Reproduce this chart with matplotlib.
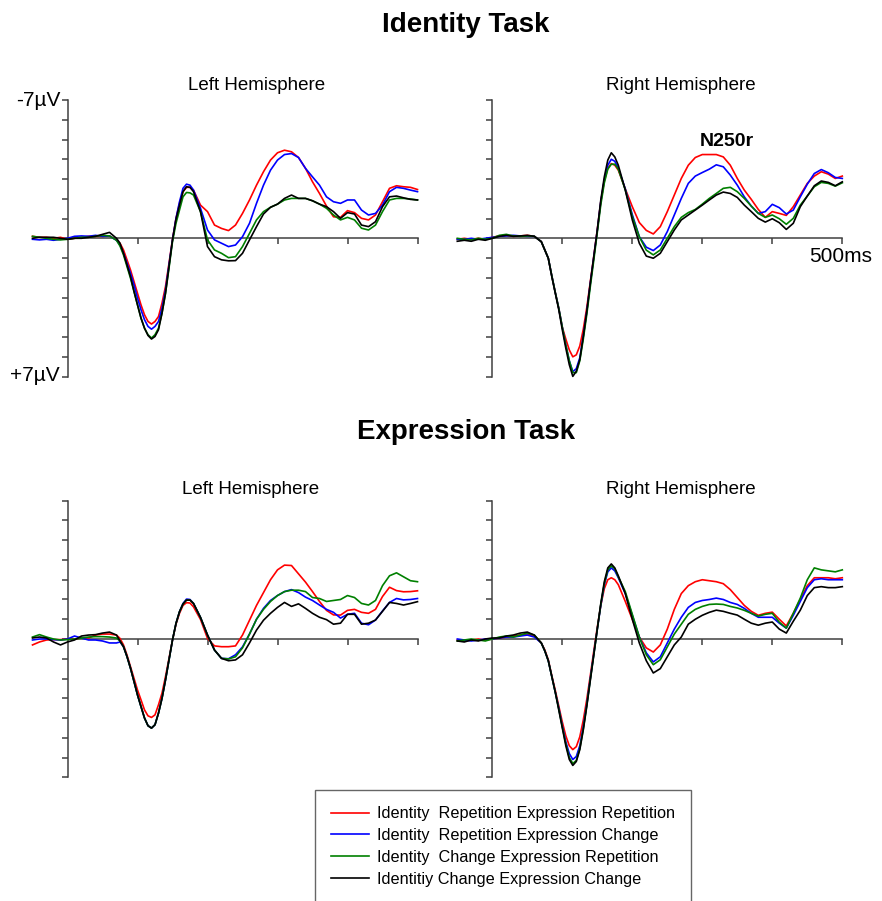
import matplotlib.pyplot as plt
from matplotlib.lines import Line2D

plt.rcParams['font.family'] = ['Liberation Sans', 'DejaVu Sans']

# time points (ms) -- denser around P1 / N170
times = [-50, -40, -30, -20, -10, 0, 10, 20, 30, 40, 50, 60,
         70, 75, 80, 85, 90, 95, 100, 105, 110, 115, 120, 125, 130, 135, 140,
         145, 150, 155, 160, 165, 170, 175, 180,
         190, 200, 210, 220, 230, 240, 250, 260, 270, 280, 290, 300, 310, 320,
         330, 340, 350, 360, 370, 380, 390, 400, 410, 420, 430, 440, 450, 460,
         470, 480, 490, 500]

# ---- Identity task, left hemisphere (uV)
id_left_rr = [-0.1, -0.05, -0.05, 0.0, -0.05, 0.05, 0.0, -0.05, -0.1, -0.1, -0.1, -0.12,
              0.08, 0.25, 0.59, 1.09, 1.6, 2.19, 2.78, 3.37, 3.87, 4.21, 4.34, 4.21, 3.96, 3.28, 2.44,
              1.26, 0.05, -1.01, -1.77, -2.36, -2.58, -2.58, -2.44,
              -1.68, -1.35, -0.67, -0.5, -0.39, -0.67, -1.26, -1.94, -2.69, -3.37, -3.96, -4.33, -4.46, -4.38,
              -4.09, -3.54, -2.86, -2.27, -1.63, -1.09, -1.06, -1.4, -1.3, -1.01, -0.93, -1.18, -1.85, -2.53,
              -2.66, -2.61, -2.58, -2.47]
id_left_rc = [0.05, 0.08, 0.05, 0.1, 0.05, 0.0, -0.1, -0.12, -0.1, -0.15, -0.1, -0.12,
              0.1, 0.34, 0.76, 1.26, 1.77, 2.36, 3.03, 3.62, 4.12, 4.46, 4.6, 4.46, 4.21, 3.54, 2.61,
              1.35, 0.08, -1.01, -1.85, -2.53, -2.74, -2.69, -2.44,
              -1.52, -0.42, 0.08, 0.25, 0.42, 0.34, -0.08, -0.76, -1.77, -2.69, -3.45, -3.96, -4.24, -4.29,
              -4.09, -3.54, -3.11, -2.69, -2.1, -1.85, -1.77, -1.94, -1.94, -1.43, -1.18, -1.26, -1.68, -2.36,
              -2.58, -2.53, -2.44, -2.36]
id_left_cr = [-0.1, -0.05, 0.0, 0.05, 0.08, 0.05, 0.0, -0.05, -0.05, -0.1, -0.15, -0.12,
              0.1, 0.39, 0.84, 1.43, 2.02, 2.69, 3.37, 4.04, 4.55, 4.88, 5.05, 4.88, 4.55, 3.79, 2.78,
              1.51, 0.17, -0.76, -1.43, -2.1, -2.32, -2.3, -2.19,
              -1.35, 0.08, 0.59, 0.76, 0.98, 0.93, 0.42, -0.25, -0.93, -1.35, -1.57, -1.73, -1.94, -2.02,
              -2.02, -2.02, -1.9, -1.73, -1.52, -1.18, -0.93, -1.06, -0.93, -0.51, -0.42, -0.67, -1.35, -1.94,
              -2.02, -2.02, -1.99, -1.94]
id_left_cc = [0.0, -0.05, -0.05, -0.05, 0.0, 0.05, 0.0, 0.0, -0.05, -0.1, -0.2, -0.3,
              0.0, 0.25, 0.76, 1.35, 1.94, 2.69, 3.37, 4.04, 4.55, 4.92, 5.1, 4.97, 4.63, 3.79, 2.78,
              1.43, 0.08, -0.96, -1.68, -2.36, -2.61, -2.58, -2.36,
              -1.35, 0.42, 0.93, 1.09, 1.14, 1.13, 0.76, 0.08, -0.59, -1.23, -1.57, -1.73, -2.02, -2.19,
              -2.02, -2.02, -1.9, -1.73, -1.6, -1.35, -1.01, -1.3, -1.23, -0.67, -0.59, -0.84, -1.6, -2.1,
              -2.14, -2.05, -1.97, -1.94]

# ---- Identity task, right hemisphere
id_right_rr = [0.05, 0.0, 0.05, 0.0, 0.05, -0.05, -0.12, -0.15, -0.1, -0.12, -0.15, -0.1,
               0.17, 0.59, 1.01, 1.9, 2.75, 3.55, 4.5, 5.1, 5.65, 6.0, 5.9, 5.45, 4.6, 3.5, 2.2,
               0.9, -0.45, -1.85, -2.9, -3.55, -3.78, -3.7, -3.45,
               -2.5, -1.6, -0.8, -0.4, -0.22, -0.59, -1.35, -2.19, -3.03, -3.7, -4.09, -4.24, -4.24, -4.24,
               -4.12, -3.7, -3.03, -2.44, -1.97, -1.46, -1.06, -1.35, -1.26, -1.16, -1.6, -2.19, -2.78, -3.15,
               -3.37, -3.25, -3.03, -3.15]
id_right_rc = [0.05, 0.05, 0.0, 0.05, 0.0, -0.05, -0.1, -0.12, -0.15, -0.12, -0.1, -0.1,
               0.17, 0.59, 1.01, 1.9, 2.75, 3.55, 4.5, 5.4, 6.2, 6.75, 6.6, 6.05, 4.95, 3.7, 2.3,
               0.95, -0.4, -1.85, -2.95, -3.7, -4.0, -3.9, -3.55,
               -2.5, -1.2, -0.08, 0.45, 0.62, 0.34, -0.34, -1.18, -2.02, -2.78, -3.15, -3.33, -3.5, -3.72,
               -3.62, -3.2, -2.69, -2.1, -1.63, -1.26, -1.35, -1.72, -1.55, -1.23, -1.43, -2.1, -2.74, -3.28,
               -3.48, -3.32, -3.08, -3.03]
id_right_cr = [0.0, 0.05, 0.08, 0.0, 0.05, 0.0, -0.15, -0.2, -0.12, -0.1, -0.12, -0.1,
               0.17, 0.59, 1.01, 1.9, 2.75, 3.55, 4.5, 5.4, 6.2, 6.8, 6.8, 6.2, 5.1, 3.85, 2.45,
               1.1, -0.3, -1.7, -2.8, -3.5, -3.75, -3.75, -3.5,
               -2.45, -1.1, -0.08, 0.6, 0.84, 0.59, 0.0, -0.59, -1.06, -1.3, -1.46, -1.73, -2.02, -2.27,
               -2.53, -2.58, -2.36, -2.02, -1.63, -1.26, -1.06, -1.18, -0.99, -0.71, -1.01, -1.68, -2.14, -2.61,
               -2.83, -2.78, -2.64, -2.81]
id_right_cc = [0.15, 0.1, 0.15, 0.05, 0.1, 0.0, -0.1, -0.15, -0.1, -0.12, -0.15, -0.1,
               0.17, 0.59, 1.01, 1.94, 2.78, 3.62, 4.63, 5.56, 6.4, 6.99, 6.73, 6.14, 4.97, 3.7, 2.27,
               0.93, -0.42, -1.94, -3.11, -3.96, -4.33, -4.12, -3.7,
               -2.44, -0.93, 0.25, 0.9, 1.01, 0.76, 0.17, -0.42, -0.93, -1.18, -1.43, -1.68, -1.94, -2.19,
               -2.34, -2.27, -2.07, -1.68, -1.35, -1.01, -0.82, -0.99, -0.79, -0.45, -0.76, -1.6, -2.14, -2.66,
               -2.9, -2.83, -2.66, -2.86]

# ---- Expression task, left hemisphere
ex_left_rr = [0.3, 0.15, 0.05, 0.03, 0.03, 0.0, 0.0, -0.05, -0.05, -0.2, -0.25, -0.25,
              -0.2, -0.03, 0.3, 0.81, 1.4, 1.99, 2.58, 3.08, 3.59, 3.89, 3.97, 3.84, 3.33, 2.74, 1.9,
              0.98, 0.05, -0.75, -1.3, -1.7, -1.84, -1.82, -1.63,
              -0.99, -0.03, 0.35, 0.39, 0.39, 0.35, -0.2, -0.95, -1.7, -2.35, -3.0, -3.5, -3.74, -3.72,
              -3.3, -2.88, -2.4, -1.9, -1.45, -1.22, -1.21, -1.45, -1.5, -1.35, -1.3, -1.5, -2.15, -2.62,
              -2.45, -2.39, -2.4, -2.44]
ex_left_rc = [0.05, 0.0, 0.0, 0.03, 0.05, 0.0, -0.15, -0.05, 0.05, 0.05, 0.1, 0.2,
              0.2, 0.15, 0.39, 0.89, 1.48, 2.15, 2.83, 3.42, 4.0, 4.39, 4.51, 4.34, 3.75, 3.0, 2.07,
              1.06, 0.05, -0.79, -1.38, -1.8, -2.02, -2.0, -1.8,
              -1.09, -0.2, 0.56, 0.98, 1.0, 0.8, 0.4, -0.25, -1.0, -1.55, -1.95, -2.2, -2.4, -2.5,
              -2.35, -2.12, -1.95, -1.72, -1.5, -1.35, -1.06, -1.25, -1.3, -0.8, -0.72, -0.96, -1.42, -1.85,
              -2.05, -1.98, -2.0, -2.05]
ex_left_cr = [-0.1, -0.22, -0.1, 0.0, 0.05, 0.03, 0.0, -0.05, -0.1, -0.12, -0.12, -0.1,
              -0.05, 0.1, 0.39, 0.89, 1.48, 2.15, 2.83, 3.42, 4.0, 4.39, 4.51, 4.34, 3.75, 3.0, 2.07,
              1.06, 0.05, -0.79, -1.38, -1.77, -1.97, -1.97, -1.8,
              -1.09, -0.2, 0.56, 0.98, 1.01, 0.9, 0.45, -0.25, -1.0, -1.5, -1.9, -2.2, -2.4, -2.47,
              -2.47, -2.4, -2.1, -2.05, -1.9, -1.95, -2.0, -2.2, -2.1, -1.8, -1.72, -1.95, -2.7, -3.2,
              -3.35, -3.15, -2.95, -2.9]
ex_left_cc = [-0.05, -0.1, -0.05, 0.15, 0.3, 0.15, 0.05, -0.15, -0.2, -0.22, -0.3, -0.35,
              -0.2, 0.1, 0.39, 0.89, 1.48, 2.15, 2.83, 3.42, 4.0, 4.39, 4.51, 4.34, 3.75, 3.0, 2.07,
              1.06, 0.05, -0.79, -1.38, -1.77, -1.97, -1.97, -1.8,
              -1.09, -0.2, 0.56, 0.98, 1.1, 1.06, 0.8, 0.2, -0.45, -0.95, -1.3, -1.6, -1.85, -1.65,
              -1.78, -1.55, -1.3, -1.1, -0.98, -0.75, -0.8, -1.25, -1.25, -0.75, -0.8, -0.96, -1.4, -1.85,
              -1.8, -1.72, -1.8, -1.89]

# ---- Expression task, right hemisphere
ex_right_rr = [0.05, 0.1, 0.05, 0.0, 0.05, 0.0, -0.05, -0.1, -0.15, -0.2, -0.25, -0.15,
               0.2, 0.55, 1.05, 1.85, 2.6, 3.4, 4.2, 4.9, 5.4, 5.6, 5.45, 4.95, 4.1, 3.05, 1.85,
               0.6, -0.6, -1.7, -2.55, -3.0, -3.1, -3.0, -2.75,
               -1.9, -1.0, -0.1, 0.45, 0.66, 0.3, -0.5, -1.5, -2.3, -2.7, -2.9, -3.0, -2.95, -2.9,
               -2.8, -2.5, -2.1, -1.7, -1.4, -1.2, -1.3, -1.36, -1.0, -0.66, -1.3, -2.0, -2.7, -3.1,
               -3.1, -3.1, -3.05, -3.1]
ex_right_rc = [0.0, 0.05, 0.1, 0.05, 0.0, 0.0, -0.05, -0.1, -0.1, -0.15, -0.2, -0.1,
               0.2, 0.6, 1.1, 1.9, 2.7, 3.5, 4.4, 5.2, 5.8, 6.1, 5.95, 5.4, 4.45, 3.3, 2.0,
               0.75, -0.5, -1.7, -2.75, -3.4, -3.6, -3.45, -3.1,
               -2.3, -1.2, -0.1, 0.7, 1.16, 0.9, 0.2, -0.5, -1.1, -1.6, -1.85, -1.95, -2.0, -2.07,
               -2.0, -1.85, -1.75, -1.55, -1.3, -1.1, -1.1, -1.1, -0.8, -0.55, -1.2, -1.9, -2.6, -3.0,
               -3.05, -3.0, -3.0, -3.0]
ex_right_cr = [0.1, 0.05, 0.0, 0.05, 0.1, 0.0, -0.1, -0.15, -0.1, -0.2, -0.3, -0.2,
               0.2, 0.6, 1.1, 1.9, 2.7, 3.55, 4.45, 5.3, 6.0, 6.3, 6.15, 5.55, 4.55, 3.35, 2.05,
               0.8, -0.5, -1.75, -2.8, -3.5, -3.7, -3.55, -3.15,
               -2.4, -1.25, -0.1, 0.8, 1.3, 1.05, 0.4, -0.25, -0.75, -1.25, -1.5, -1.65, -1.75, -1.77,
               -1.75, -1.65, -1.57, -1.45, -1.3, -1.16, -1.25, -1.3, -0.85, -0.55, -1.3, -2.07, -3.0, -3.6,
               -3.5, -3.45, -3.4, -3.5]
ex_right_cc = [0.1, 0.15, 0.05, 0.1, 0.0, -0.05, -0.05, -0.15, -0.2, -0.3, -0.35, -0.2,
               0.2, 0.6, 1.1, 1.9, 2.7, 3.6, 4.5, 5.4, 6.1, 6.4, 6.2, 5.6, 4.6, 3.4, 2.1,
               0.8, -0.5, -1.8, -2.9, -3.6, -3.8, -3.6, -3.2,
               -2.3, -1.0, 0.2, 1.1, 1.72, 1.5, 0.9, 0.3, -0.1, -0.75, -1.0, -1.2, -1.35, -1.46,
               -1.4, -1.3, -1.21, -1.0, -0.8, -0.7, -0.8, -0.86, -0.5, -0.3, -0.9, -1.46, -2.2, -2.6,
               -2.65, -2.6, -2.6, -2.65]

labels = ['Identity  Repetition Expression Repetition',
          'Identity  Repetition Expression Change',
          'Identity  Change Expression Repetition',
          'Identitiy Change Expression Change']
colors = ['#ff0000', '#0000ff', '#008000', '#000000']

W, H = 882, 901


def px_x(x):
    return x / W


def px_y(y):
    return 1 - y / H


def erp_panel(left_px, top_px, series):
    # 0.7 px per ms, 19.75 px per uV
    ax = fig.add_axes([px_x(left_px), px_y(top_px + 288.4), 392 / W, 288.4 / H])
    for vals, c in zip(series, colors):
        ax.plot(times, vals, color=c, lw=1.2, zorder=3)
    ax.set_xlim(-55, 505)
    ax.set_ylim(7.3, -7.3)
    ax.patch.set_visible(False)
    for s in ['top', 'right']:
        ax.spines[s].set_visible(False)
    ax.spines['left'].set_position(('data', 0))
    ax.spines['bottom'].set_position(('data', 0))
    ax.spines['left'].set_bounds(-7, 7)
    ax.spines['bottom'].set_bounds(0, 500)
    for s in ['left', 'bottom']:
        ax.spines[s].set_color('#404040')
        ax.spines[s].set_linewidth(1.1)
        ax.spines[s].set_zorder(2)
    ax.set_xticks([100, 200, 300, 400, 500])
    ax.set_yticks(range(-7, 8))
    ax.tick_params(length=4, width=1.1, color='#404040', direction='out',
                   labelleft=False, labelbottom=False)
    return ax


fig = plt.figure(figsize=(W / 100, H / 100), dpi=100)

ax_tl = erp_panel(29, 94.1, [id_left_rr, id_left_rc, id_left_cr, id_left_cc])
ax_tr = erp_panel(453.8, 94.1, [id_right_rr, id_right_rc, id_right_cr, id_right_cc])
ax_bl = erp_panel(29, 494.8, [ex_left_rr, ex_left_rc, ex_left_cr, ex_left_cc])
ax_br = erp_panel(453.8, 494.8, [ex_right_rr, ex_right_rc, ex_right_cr, ex_right_cc])

fig.text(px_x(466), px_y(25), 'Identity Task', ha='center', va='center',
         fontsize=20, fontweight='bold')
fig.text(px_x(466), px_y(432), 'Expression Task', ha='center', va='center',
         fontsize=20, fontweight='bold')
for x, y, t in [(257, 86, 'Left Hemisphere'), (681, 86, 'Right Hemisphere'),
                (251, 489, 'Left Hemisphere'), (681, 489, 'Right Hemisphere')]:
    fig.text(px_x(x), px_y(y), t, ha='center', va='center', fontsize=13.5)

fig.text(px_x(60), px_y(100), '-7\u00b5V', ha='right', va='center', fontsize=15)
fig.text(px_x(60), px_y(376), '+7\u00b5V', ha='right', va='center', fontsize=15)
fig.text(px_x(872), px_y(257), '500ms', ha='right', va='center', fontsize=15)
fig.text(px_x(727), px_y(141), 'N250r', ha='center', va='center', fontsize=14,
         fontweight='bold')

handles = [Line2D([], [], color=c, lw=1.2) for c in colors]
leg = fig.legend(handles, labels, loc='upper center', bbox_to_anchor=(px_x(503), px_y(790)),
                 fontsize=11.7, frameon=True, fancybox=False, edgecolor='#404040',
                 handlelength=2.35, handletextpad=0.5, labelspacing=0.42,
                 borderpad=1.0, borderaxespad=0)
leg.get_frame().set_linewidth(1.0)

fig.savefig('out.png', dpi=100)
